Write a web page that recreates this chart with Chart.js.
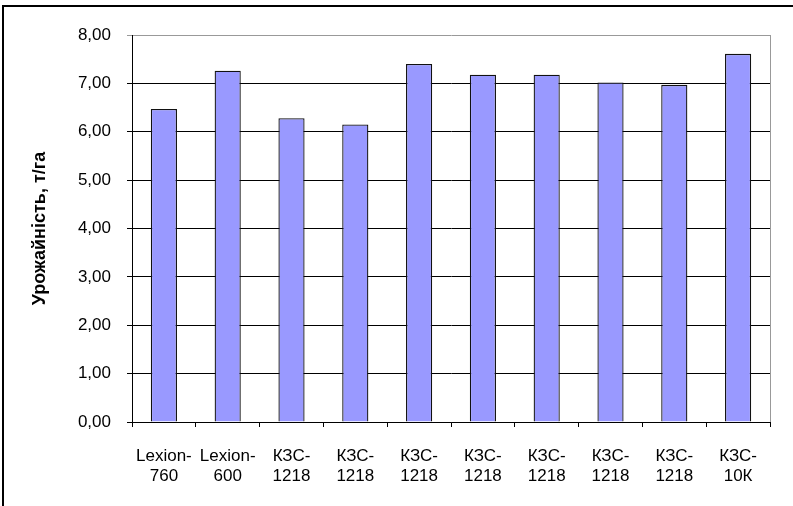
<!DOCTYPE html>
<html lang="uk">
<head>
  <meta charset="UTF-8">
  <title>Урожайність</title>
  <script src="https://cdn.jsdelivr.net/npm/chart.js"></script>
  <style>
    html, body { margin: 0; padding: 0; background: #fff; }
    #wrap { width: 793px; height: 506px; }
  </style>
</head>
<body>
  <div id="wrap"><canvas id="yieldChart" width="793" height="506"></canvas></div>

  <script>
    // Дані з діаграми
    const categories = [
      ["Lexion-", "760"], ["Lexion-", "600"], ["КЗС-", "1218"], ["КЗС-", "1218"], ["КЗС-", "1218"],
      ["КЗС-", "1218"], ["КЗС-", "1218"], ["КЗС-", "1218"], ["КЗС-", "1218"], ["КЗС-", "10К"]
    ];
    const yieldValues = [6.47, 7.26, 6.28, 6.15, 7.40, 7.18, 7.18, 7.02, 6.97, 7.61];
    const yTicks = [0, 1, 2, 3, 4, 5, 6, 7, 8];
    const yTitle = "Урожайність, т/га";

    const FONT = "'Liberation Sans', Arial, sans-serif";

    // рамка навколо діаграми та права межа області побудови
    const framePlugin = {
      id: "frame",
      afterDraw(chart) {
        const { ctx, chartArea } = chart;
        ctx.save();
        ctx.strokeStyle = "#999";
        ctx.lineWidth = 1;
        ctx.beginPath();
        ctx.moveTo(chartArea.right + 0.5, chartArea.top);
        ctx.lineTo(chartArea.right + 0.5, chartArea.bottom);
        ctx.stroke();

        ctx.strokeStyle = "#000";
        ctx.lineWidth = 2;
        ctx.beginPath();
        ctx.moveTo(3, 506);
        ctx.lineTo(3, 6);
        ctx.lineTo(793, 6);
        ctx.stroke();
        ctx.restore();
      }
    };

    new Chart(document.getElementById("yieldChart"), {
      type: "bar",
      data: {
        labels: categories,
        datasets: [{
          data: yieldValues,
          backgroundColor: "#9999FF",
          borderColor: "#111",
          borderWidth: 1.3,
          barPercentage: 0.41,
          categoryPercentage: 1
        }]
      },
      options: {
        responsive: false,
        animation: false,
        layout: { padding: { top: 35, right: 23, left: 0, bottom: 0 } },
        plugins: { legend: { display: false }, tooltip: { enabled: false } },
        scales: {
          x: {
            grid: {
              display: true,
              drawOnChartArea: false,
              offset: true,
              color: "#000",
              tickLength: 5
            },
            border: { color: "#000", width: 1 },
            ticks: {
              color: "#000",
              font: { family: FONT, size: 17 },
              maxRotation: 0,
              autoSkip: false,
              padding: 19
            },
            afterFit(scale) { scale.height = 84; }
          },
          y: {
            min: 0,
            max: 8,
            afterBuildTicks(scale) { scale.ticks = yTicks.map(v => ({ value: v })); },
            grid: {
              color: ctx => (ctx.tick && ctx.tick.value === 8 ? "#999" : "#000"),
              tickLength: 5
            },
            border: { color: "#000", width: 1 },
            ticks: {
              color: "#000",
              font: { family: FONT, size: 17 },
              padding: 16,
              callback: v => v.toFixed(2).replace(".", ",")
            },
            title: {
              display: true,
              text: yTitle,
              color: "#000",
              font: { family: FONT, size: 18, weight: "bold" },
              padding: { top: 29, bottom: 0 }
            },
            afterFit(scale) { scale.width = 132; }
          }
        }
      },
      plugins: [framePlugin]
    });
  </script>
</body>
</html>
